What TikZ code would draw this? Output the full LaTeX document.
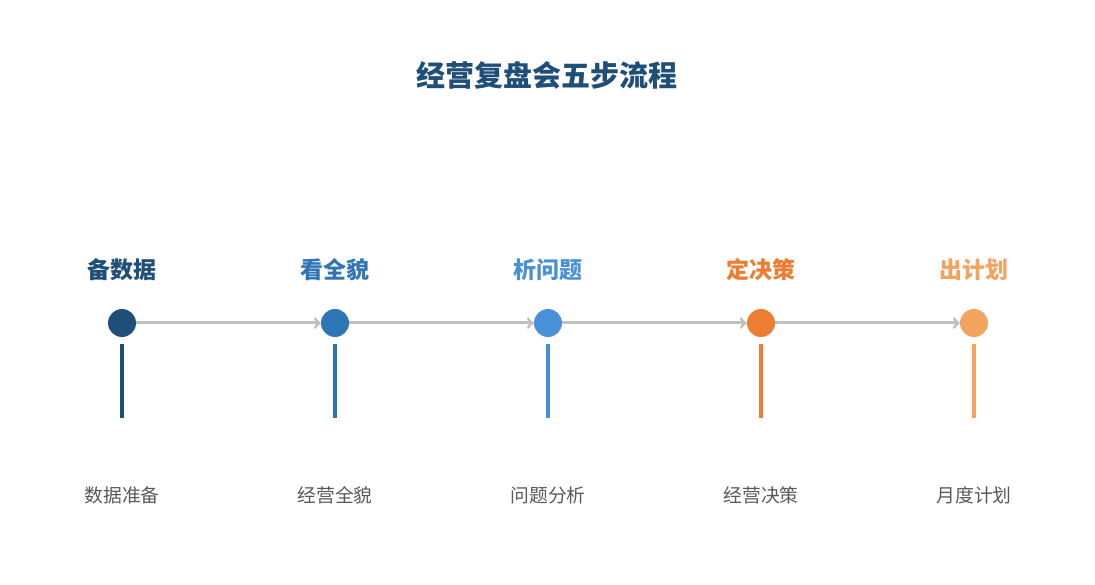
\documentclass[tikz,border=0pt]{standalone}
\usepackage{fontspec}
\setmainfont{Noto Sans CJK SC}
\usetikzlibrary{arrows,positioning}
\definecolor{stepa}{HTML}{1F4E79}
\definecolor{stepb}{HTML}{2E75B6}
\definecolor{stepc}{HTML}{4A90D9}
\definecolor{stepd}{HTML}{ED7D31}
\definecolor{stepe}{HTML}{F2A35E}
\definecolor{flowgray}{HTML}{C0C0C0}
\definecolor{notegray}{HTML}{595959}

\begin{document}
\begin{tikzpicture}[x=1pt,y=-1pt,>=to,node distance=213pt,
    dot/.style={circle,minimum size=28pt,inner sep=0pt},
    steplabel/.style={font=\fontsize{23}{26}\selectfont\bfseries},
    note/.style={font=\fontsize{18.8}{22}\selectfont,text=notegray},
    flow/.style={->,draw=flowgray,line width=3pt},
    stem/.style={line width=3.5pt}]

  \useasboundingbox (0,0) rectangle (1095,585);

  \node[font=\fontsize{29}{33}\selectfont\bfseries,text=stepa] (title) at (547,75) {经营复盘会五步流程};

  \node[dot,fill=stepa] (1) at (122,323) {};
  \node[dot,fill=stepb] (2) [right of=1] {};
  \node[dot,fill=stepc] (3) [right of=2] {};
  \node[dot,fill=stepd] (4) [right of=3] {};
  \node[dot,fill=stepe] (5) [right of=4] {};

  \node[steplabel,text=stepa] (t1) at ([yshift=53pt]1) {备数据};
  \node[steplabel,text=stepb] (t2) at ([yshift=53pt]2) {看全貌};
  \node[steplabel,text=stepc] (t3) at ([yshift=53pt]3) {析问题};
  \node[steplabel,text=stepd] (t4) at ([yshift=53pt]4) {定决策};
  \node[steplabel,text=stepe] (t5) at ([yshift=53pt]5) {出计划};

  \path (1) edge[flow] (2)
  (2) edge[flow] (3)
  (3) edge[flow] (4)
  (4) edge[flow] (5);

  \coordinate (s1) at ([yshift=-21pt]1); \coordinate (e1) at ([yshift=-95pt]1);
  \coordinate (s2) at ([yshift=-21pt]2); \coordinate (e2) at ([yshift=-95pt]2);
  \coordinate (s3) at ([yshift=-21pt]3); \coordinate (e3) at ([yshift=-95pt]3);
  \coordinate (s4) at ([yshift=-21pt]4); \coordinate (e4) at ([yshift=-95pt]4);
  \coordinate (s5) at ([yshift=-21pt]5); \coordinate (e5) at ([yshift=-95pt]5);

  \draw[stem,stepa] (s1) -- (e1);
  \draw[stem,stepb] (s2) -- (e2);
  \draw[stem,stepc] (s3) -- (e3);
  \draw[stem,stepd] (s4) -- (e4);
  \draw[stem,stepe] (s5) -- (e5);

  \node[note] (n1) at ([yshift=-172pt]1) {数据准备};
  \node[note] (n2) at ([yshift=-172pt]2) {经营全貌};
  \node[note] (n3) at ([yshift=-172pt]3) {问题分析};
  \node[note] (n4) at ([yshift=-172pt]4) {经营决策};
  \node[note] (n5) at ([yshift=-172pt]5) {月度计划};

\end{tikzpicture}
\end{document}
